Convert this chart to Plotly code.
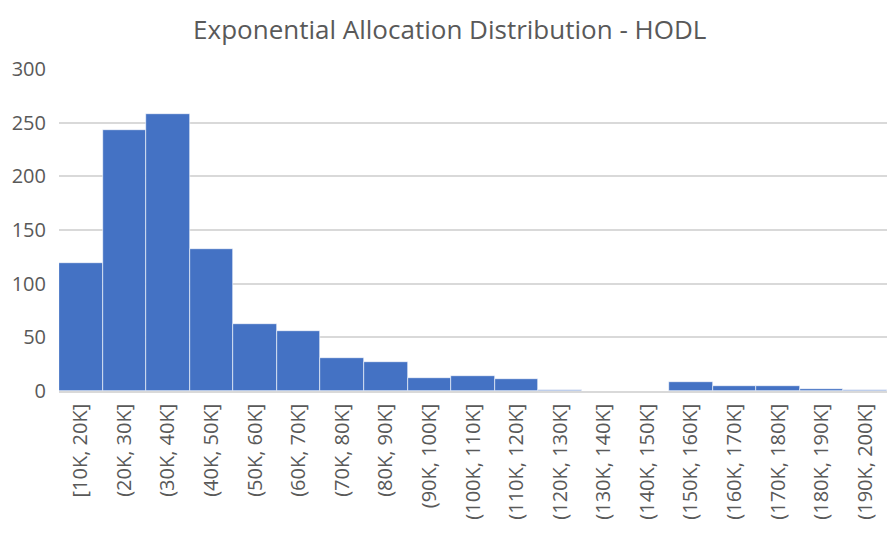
import plotly.graph_objects as go

categories = ["[10K, 20K]", "(20K, 30K]", "(30K, 40K]", "(40K, 50K]", "(50K, 60K]",
              "(60K, 70K]", "(70K, 80K]", "(80K, 90K]", "(90K, 100K]", "(100K, 110K]",
              "(110K, 120K]", "(120K, 130K]", "(130K, 140K]", "(140K, 150K]", "(150K, 160K]",
              "(160K, 170K]", "(170K, 180K]", "(180K, 190K]", "(190K, 200K]"]
counts = [119, 243, 258, 132, 62, 56, 31, 27, 12, 14, 11, 1, 0, 0, 8, 5, 5, 2, 1]
y_ticks = [0, 50, 100, 150, 200, 250, 300]

fig = go.Figure(go.Bar(
    x=categories, y=counts,
    marker=dict(color="#4472C4", line=dict(color="white", width=0.6)),
))

fig.update_layout(
    width=896, height=536,
    margin=dict(l=51, r=17, t=61, b=153),
    paper_bgcolor="white", plot_bgcolor="white",
    bargap=0,
    showlegend=False,
    font=dict(family="Open Sans, Liberation Sans, sans-serif", color="#595959"),
    title=dict(text="Exponential Allocation Distribution - HODL", x=0.493, xanchor="center",
               xref="container", y=0.959, yanchor="middle",
               font=dict(size=26, color="#595959")),
)
fig.update_xaxes(
    tickangle=-90, tickfont=dict(size=20, color="#595959"),
    showline=True, linecolor="#D9D9D9", linewidth=1.5,
    showgrid=False, ticks="", ticklen=0, automargin=False, ticklabelstandoff=3,
)
fig.update_yaxes(
    range=[0, 300], tickvals=y_ticks,
    tickfont=dict(size=20, color="#595959"),
    showgrid=True, gridcolor="#D9D9D9", gridwidth=1.5,
    zeroline=False, showline=False, ticks="", ticklabelstandoff=12, automargin=False,
)

fig.write_html("out.html")
